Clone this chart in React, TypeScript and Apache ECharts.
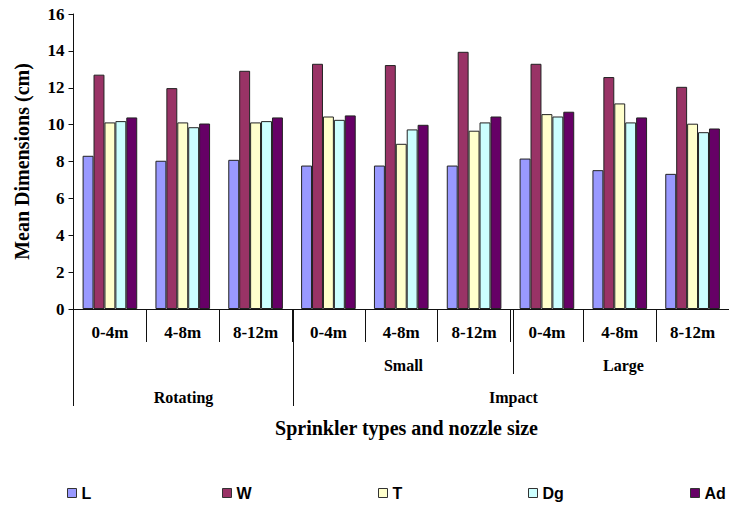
import React, { useEffect, useRef } from "react";
import * as echarts from "echarts";

// Nozzle range categories (first axis level)
const categories = ["0-4m", "4-8m", "8-12m", "0-4m", "4-8m", "8-12m", "0-4m", "4-8m", "8-12m"];

// Grouping levels below the category labels: [label, first category index, span]
const sizeGroups: [string, number, number][] = [
  ["", 0, 3],
  ["Small", 3, 3],
  ["Large", 6, 3],
];
const typeGroups: [string, number, number][] = [
  ["Rotating", 0, 3],
  ["Impact", 3, 6],
];

const yTicks = [0, 2, 4, 6, 8, 10, 12, 14, 16];

// Mean droplet dimensions (cm)
const seriesNames = ["L", "W", "T", "Dg", "Ad"];
const L = [8.31, 8.04, 8.09, 7.78, 7.78, 7.78, 8.16, 7.53, 7.33];
const W = [12.71, 11.98, 12.92, 13.3, 13.23, 13.95, 13.3, 12.58, 12.05];
const T = [10.12, 10.12, 10.12, 10.44, 8.96, 9.67, 10.57, 11.15, 10.05];
const Dg = [10.19, 9.86, 10.19, 10.26, 9.74, 10.12, 10.44, 10.12, 9.59];
const Ad = [10.39, 10.06, 10.39, 10.5, 9.99, 10.44, 10.7, 10.39, 9.79];
const seriesData = [L, W, T, Dg, Ad];
const colors = ["#9999FF", "#993366", "#FFFFCC", "#CCFFFF", "#660066"];

const serif = "'Liberation Serif', 'Times New Roman', serif";
const sans = "'Liberation Sans', Arial, sans-serif";

// plot geometry
const G_LEFT = 73.5;
const G_TOP = 14;
const G_WIDTH = 660;
const G_HEIGHT = 295;
const AXIS_Y = G_TOP + G_HEIGHT;
const CAT_W = G_WIDTH / categories.length;

const legendLeft = [67, 222, 378, 528, 690];

export default function App() {
  const ref = useRef<HTMLDivElement>(null);

  useEffect(() => {
    if (!ref.current) return;
    const chart = echarts.init(ref.current, undefined, { renderer: "svg" });

    const graphics: any[] = [];
    const lineStyle = { stroke: "#111", lineWidth: 1 };
    const xAt = (i: number) => G_LEFT + i * CAT_W;
    const groupFont = `bold 16px ${serif}`;

    sizeGroups.forEach(([label, start, span]) => {
      if (start > 0) {
        graphics.push({
          type: "line",
          shape: { x1: xAt(start), y1: AXIS_Y, x2: xAt(start), y2: AXIS_Y + 65 },
          style: lineStyle,
        });
      }
      if (label) {
        graphics.push({
          type: "text",
          x: xAt(start + span / 2),
          y: AXIS_Y + 56,
          style: { text: label, font: groupFont, fill: "#000", align: "center", verticalAlign: "middle" },
        });
      }
    });

    typeGroups.forEach(([label, start, span]) => {
      graphics.push({
        type: "line",
        shape: { x1: xAt(start), y1: AXIS_Y, x2: xAt(start), y2: AXIS_Y + 97 },
        style: lineStyle,
      });
      graphics.push({
        type: "text",
        x: xAt(start + span / 2),
        y: AXIS_Y + 88,
        style: { text: label, font: groupFont, fill: "#000", align: "center", verticalAlign: "middle" },
      });
    });

    graphics.push({
      type: "text",
      x: G_LEFT + G_WIDTH / 2 + 3,
      y: 428,
      style: {
        text: "Sprinkler types and nozzle size",
        font: `bold 20px ${serif}`,
        fill: "#000",
        align: "center",
        verticalAlign: "middle",
      },
    });

    chart.setOption({
      animation: false,
      backgroundColor: "#fff",
      grid: { left: G_LEFT, top: G_TOP, width: G_WIDTH, height: G_HEIGHT, containLabel: false },
      legend: seriesNames.map((name, i) => ({
        data: [name],
        left: legendLeft[i] - 5,
        top: 480,
        icon: "rect",
        itemWidth: 9,
        itemHeight: 9,
        selectedMode: false,
        itemStyle: { borderColor: "#333", borderWidth: 1 },
        textStyle: { fontFamily: sans, fontWeight: "bold", fontSize: 16, color: "#000" },
      })),
      xAxis: {
        type: "category",
        data: categories,
        boundaryGap: true,
        axisLine: { show: true, lineStyle: { color: "#111", width: 1 } },
        axisTick: { show: true, interval: 0, length: 33, lineStyle: { color: "#111" } },
        axisLabel: {
          interval: 0,
          margin: 15,
          fontFamily: serif,
          fontWeight: "bold",
          fontSize: 17,
          color: "#000",
        },
      },
      yAxis: {
        type: "value",
        min: 0,
        max: 16,
        interval: 2,
        name: "Mean Dimensions (cm)",
        nameLocation: "middle",
        nameGap: 42,
        nameRotate: 90,
        nameTextStyle: { fontFamily: serif, fontWeight: "bold", fontSize: 20, color: "#000" },
        axisLine: { show: true, lineStyle: { color: "#111", width: 1 } },
        axisTick: { show: true, length: 5, lineStyle: { color: "#111" } },
        splitLine: { show: false },
        axisLabel: {
          margin: 9,
          fontFamily: serif,
          fontWeight: "bold",
          fontSize: 17,
          color: "#000",
          formatter: (v: number) => (yTicks.includes(v) ? String(v) : ""),
        },
      },
      series: seriesNames.map((name, i) => ({
        name,
        type: "bar",
        data: seriesData[i],
        barGap: "0%",
        barCategoryGap: "25%",
        itemStyle: { color: colors[i], borderColor: "#222", borderWidth: 1 },
      })),
      graphic: graphics,
    });

    return () => chart.dispose();
  }, []);

  return (
    <div
      ref={ref}
      style={{ position: "absolute", left: 0, top: 0, width: 729, height: 506, overflow: "hidden" }}
    />
  );
}
